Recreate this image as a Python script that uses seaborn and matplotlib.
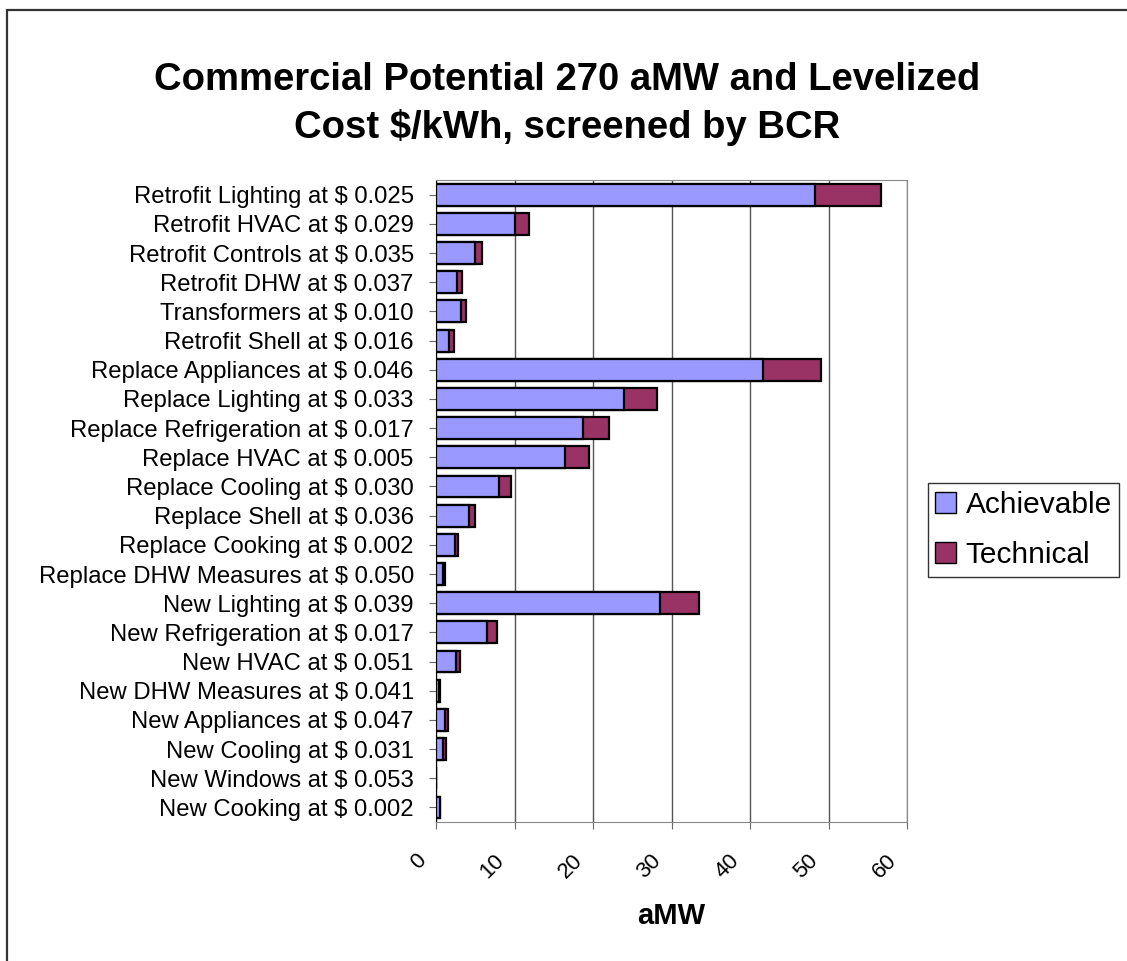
import matplotlib
matplotlib.use("Agg")
import matplotlib.pyplot as plt
import matplotlib.transforms as mtransforms
import seaborn as sns
import pandas as pd
from matplotlib.patches import Patch, Rectangle

measures = [
    "Retrofit Lighting at $ 0.025", "Retrofit HVAC at $ 0.029",
    "Retrofit Controls at $ 0.035", "Retrofit DHW at $ 0.037",
    "Transformers at $ 0.010", "Retrofit Shell at $ 0.016",
    "Replace Appliances at $ 0.046", "Replace Lighting at $ 0.033",
    "Replace Refrigeration at $ 0.017", "Replace HVAC at $ 0.005",
    "Replace Cooling at $ 0.030", "Replace Shell at $ 0.036",
    "Replace Cooking at $ 0.002", "Replace DHW Measures at $ 0.050",
    "New Lighting at $ 0.039", "New Refrigeration at $ 0.017",
    "New HVAC at $ 0.051", "New DHW Measures at $ 0.041",
    "New Appliances at $ 0.047", "New Cooling at $ 0.031",
    "New Windows at $ 0.053", "New Cooking at $ 0.002",
]
achievable = [48.3, 10.0, 5.0, 2.7, 3.2, 1.65, 41.7, 23.9, 18.7, 16.4, 8.05,
              4.2, 2.4, 0.9, 28.5, 6.5, 2.5, 0.4, 1.15, 0.95, 0.0, 0.45]
technical = [8.4, 1.8, 0.8, 0.6, 0.6, 0.65, 7.4, 4.2, 3.3, 3.1, 1.55,
             0.8, 0.4, 0.3, 5.0, 1.3, 0.5, 0.15, 0.4, 0.3, 0.0, 0.1]
x_ticks = [0, 10, 20, 30, 40, 50, 60]

ach_color = "#9999ff"
tech_color = "#993366"

df = pd.DataFrame({"measure": measures, "achievable": achievable,
                   "technical": technical})
df["total"] = df["achievable"] + df["technical"]

sns.set_style("white")
plt.rcParams["font.family"] = ["Liberation Sans", "DejaVu Sans"]
plt.rcParams["text.color"] = "black"
plt.rcParams["xtick.color"] = "black"
plt.rcParams["ytick.color"] = "black"
plt.rcParams["axes.labelcolor"] = "black"

fig = plt.figure(figsize=(11.27, 9.61), dpi=100)
ax = fig.add_axes([0.3869, 0.1446, 0.4179, 0.668])

# stacked: total drawn first, achievable on top of it
sns.barplot(data=df, x="total", y="measure", color=tech_color, orient="h",
            width=0.75, edgecolor="black", linewidth=1.6, saturation=1,
            ax=ax, zorder=3)
sns.barplot(data=df, x="achievable", y="measure", color=ach_color, orient="h",
            width=0.75, edgecolor="black", linewidth=1.6, saturation=1,
            ax=ax, zorder=4)

ax.set_xlim(0, 60)
ax.set_xticks(x_ticks)
ax.set_xticklabels([str(t) for t in x_ticks], rotation=45, fontsize=16,
                   ha="right", rotation_mode="anchor")
ax.tick_params(axis="y", labelsize=17.2, length=5, color="#666666", pad=11, left=True)
ax.tick_params(axis="x", length=5, color="#666666", pad=15, bottom=True)
shift = mtransforms.ScaledTranslation(-15 / 72, 0, fig.dpi_scale_trans)
for lbl in ax.get_xticklabels():
    lbl.set_transform(lbl.get_transform() + shift)
ax.xaxis.grid(True, color="#555555", linewidth=1.0, zorder=0)
ax.set_axisbelow(True)
ax.set_ylabel("")
ax.set_xlabel("aMW", fontsize=21, fontweight="bold", labelpad=14)
for s in ["top", "right", "bottom"]:
    ax.spines[s].set_color("#888888")
ax.spines["left"].set_color("black")

fig.suptitle("Commercial Potential 270 aMW and Levelized\nCost $/kWh, screened by BCR",
             fontsize=27.5, fontweight="bold", y=0.935, x=0.503, linespacing=1.35)

handles = [Patch(facecolor=ach_color, edgecolor="black", label="Achievable"),
           Patch(facecolor=tech_color, edgecolor="black", label="Technical")]
fig.legend(handles=handles, loc="center left", bbox_to_anchor=(0.823, 0.4485),
           fontsize=21.5, frameon=True, fancybox=False, edgecolor="black",
           handlelength=0.72, handleheight=0.72, handletextpad=0.3,
           borderpad=0.25, labelspacing=0.75, borderaxespad=0)

# chart-area border: only left and top edges fall inside the image
fig.patches.append(Rectangle((0.0062, -0.1), 1.2, 1.0896, transform=fig.transFigure,
                             fill=False, edgecolor="#333333", linewidth=1.6))

fig.savefig("out.png", dpi=100)
